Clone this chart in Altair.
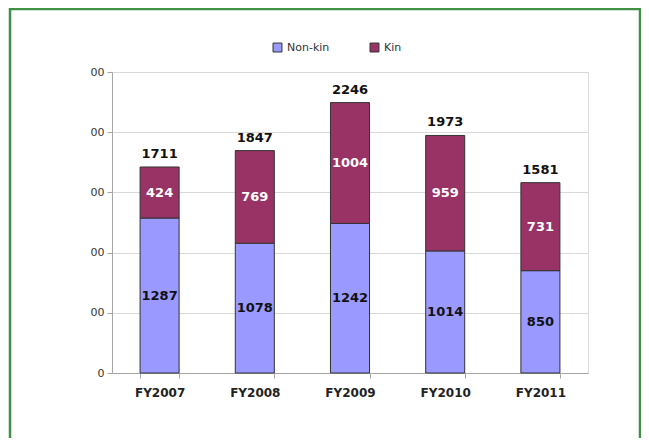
import altair as alt
import pandas as pd

years = ["FY2007", "FY2008", "FY2009", "FY2010", "FY2011"]
nonkin = [1287, 1078, 1242, 1014, 850]
kin = [424, 769, 1004, 959, 731]
totals = [1711, 1847, 2246, 1973, 1581]
series = ["Non-kin", "Kin"]
colors = ["#9999ff", "#993366"]
y_ticks = [0, 500, 1000, 1500, 2000, 2500]

rows = []
for i, yr in enumerate(years):
    rows.append({"year": yr, "series": "Non-kin", "value": nonkin[i], "order": 0})
    rows.append({"year": yr, "series": "Kin", "value": kin[i], "order": 1})
df = pd.DataFrame(rows)
tot_df = pd.DataFrame({"year": years, "total": totals})

FONT = "DejaVu Sans"

x_enc = alt.X("year:N", sort=years, title=None,
              scale=alt.Scale(paddingInner=0.59, paddingOuter=0.295),
              axis=alt.Axis(labelAngle=0, labelFont=FONT, labelFontSize=12,
                            labelFontWeight="bold", labelColor="#222",
                            tickBand="extent", tickSize=5, tickColor="#a6a6a6",
                            labelPadding=9, domainColor="#a6a6a6"))
y_scale = alt.Scale(domain=[0, 2500], nice=False)

base = alt.Chart(df).transform_stack(
    stack="value", groupby=["year"], as_=["v0", "v1"],
    sort=[alt.SortField("order", "ascending")]
).transform_calculate(mid="(datum.v0 + datum.v1) / 2")

bars = base.mark_bar(stroke="#333333", strokeWidth=1).encode(
    x=x_enc,
    y=alt.Y("v0:Q", scale=y_scale, title=None,
            axis=alt.Axis(values=y_ticks, labelExpr="slice(toString(datum.value), -2)",
                          labelFont=FONT, labelFontSize=11, labelColor="#333",
                          tickSize=5, tickColor="#a6a6a6", labelPadding=3,
                          gridColor="#d9d9d9", domainColor="#a6a6a6")),
    y2="v1:Q",
    color=alt.Color("series:N", scale=alt.Scale(domain=series, range=colors),
                    legend=alt.Legend(title=None, orient="none", direction="horizontal",
                                      legendX=160, legendY=-30, symbolType="square",
                                      symbolSize=80, symbolStrokeColor="#333",
                                      symbolStrokeWidth=1, labelFont=FONT,
                                      labelFontSize=11, labelColor="#333",
                                      columnPadding=38)),
    order=alt.Order("order:Q"),
)

seg_text = base.mark_text(font=FONT, fontSize=13, fontWeight="bold").encode(
    x=alt.X("year:N", sort=years),
    y=alt.Y("mid:Q", scale=y_scale),
    text=alt.Text("value:Q"),
    color=alt.Color("series:N", scale=alt.Scale(domain=series, range=["#111111", "#ffffff"]),
                    legend=None),
)

tot_text = alt.Chart(tot_df).mark_text(font=FONT, fontSize=13, fontWeight="bold",
                                        baseline="bottom", dy=-6, color="#111").encode(
    x=alt.X("year:N", sort=years),
    y=alt.Y("total:Q", scale=y_scale),
    text=alt.Text("total:Q"),
)

frame = alt.Chart(pd.DataFrame({"a": [0]})).mark_rect(
    fillOpacity=0, stroke="#3f8f45", strokeWidth=2.5
).encode(x=alt.value(-102), x2=alt.value(528), y=alt.value(-63), y2=alt.value(380))

chart = alt.layer(bars, seg_text, tot_text, frame).resolve_scale(color="independent").properties(
    width=476, height=301,
    autosize=alt.AutoSizeParams(type="none"),
    padding={"left": 104, "top": 64, "right": 53, "bottom": 65},
).configure_view(stroke="#c0c0c0").configure(background="white")

chart.save("out.html", embed_options={"renderer": "svg", "actions": False})
